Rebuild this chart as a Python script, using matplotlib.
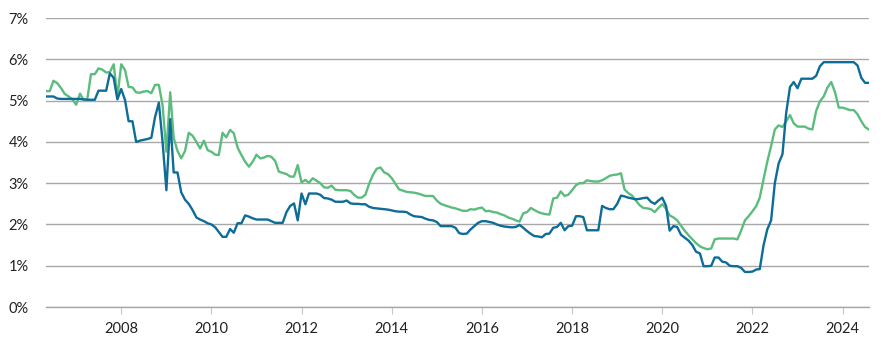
import numpy as np
import pandas as pd
import matplotlib
matplotlib.use("Agg")
import matplotlib.pyplot as plt
import matplotlib.dates as mdates

# Monthly series, May 2006 - Aug 2024 (values in %)
dates = pd.date_range("2006-05-01", "2024-08-01", freq="MS")

blue = [
    # 2006 May-Dec
    5.10, 5.10, 5.10, 5.05, 5.04, 5.04, 5.04, 5.04,
    # 2007
    5.04, 5.04, 5.03, 5.02, 5.02, 5.02, 5.24, 5.24, 5.24, 5.66, 5.55, 5.03,
    # 2008
    5.28, 5.01, 4.50, 4.50, 4.00, 4.03, 4.05, 4.07, 4.10, 4.60, 4.95, 4.00,
    # 2009
    2.83, 4.55, 3.26, 3.26, 2.78, 2.60, 2.50, 2.35, 2.17, 2.12, 2.08, 2.03,
    # 2010
    2.00, 1.93, 1.82, 1.70, 1.70, 1.89, 1.80, 2.03, 2.03, 2.22, 2.19, 2.15,
    # 2011
    2.12, 2.12, 2.12, 2.12, 2.08, 2.04, 2.04, 2.04, 2.30, 2.45, 2.51, 2.10,
    # 2012
    2.75, 2.49, 2.75, 2.75, 2.75, 2.72, 2.64, 2.63, 2.60, 2.55, 2.55, 2.55,
    # 2013
    2.58, 2.51, 2.50, 2.50, 2.49, 2.49, 2.43, 2.40, 2.39, 2.38, 2.37, 2.36,
    # 2014
    2.34, 2.32, 2.31, 2.31, 2.30, 2.24, 2.20, 2.19, 2.18, 2.14, 2.11, 2.10,
    # 2015
    2.06, 1.96, 1.96, 1.96, 1.96, 1.92, 1.79, 1.77, 1.78, 1.88, 1.96, 2.04,
    # 2016
    2.08, 2.08, 2.06, 2.04, 2.00, 1.97, 1.95, 1.94, 1.93, 1.94, 1.99, 1.92,
    # 2017
    1.84, 1.77, 1.72, 1.71, 1.69, 1.77, 1.78, 1.92, 1.94, 2.04, 1.86, 1.96,
    # 2018
    1.97, 2.20, 2.20, 2.18, 1.86, 1.86, 1.86, 1.86, 2.45, 2.40, 2.37, 2.37,
    # 2019
    2.50, 2.70, 2.68, 2.65, 2.63, 2.61, 2.62, 2.64, 2.65, 2.55, 2.50, 2.58,
    # 2020
    2.65, 2.45, 1.85, 1.96, 1.94, 1.75, 1.68, 1.61, 1.50, 1.34, 1.30, 0.99,
    # 2021
    0.99, 1.00, 1.20, 1.20, 1.10, 1.08, 1.00, 0.99, 0.99, 0.95, 0.85, 0.85,
    # 2022
    0.86, 0.91, 0.92, 1.50, 1.88, 2.10, 3.00, 3.48, 3.70, 4.70, 5.33, 5.45,
    # 2023
    5.30, 5.53, 5.53, 5.53, 5.53, 5.60, 5.83, 5.93, 5.93, 5.93, 5.93, 5.93,
    # 2024 Jan-Aug
    5.93, 5.93, 5.93, 5.93, 5.85, 5.55, 5.43, 5.43,
]

green = [
    # 2006 May-Dec
    5.23, 5.23, 5.48, 5.42, 5.30, 5.16, 5.10, 5.03,
    # 2007
    4.90, 5.17, 5.02, 5.03, 5.64, 5.64, 5.78, 5.75, 5.68, 5.69, 5.88, 5.08,
    # 2008
    5.88, 5.74, 5.33, 5.32, 5.20, 5.19, 5.22, 5.23, 5.18, 5.38, 5.38, 4.89,
    # 2009
    3.76, 5.20, 4.10, 3.78, 3.60, 3.78, 4.22, 4.15, 4.00, 3.84, 4.03, 3.80,
    # 2010
    3.76, 3.69, 3.68, 4.22, 4.11, 4.29, 4.21, 3.86, 3.68, 3.52, 3.40, 3.52,
    # 2011
    3.69, 3.60, 3.62, 3.66, 3.64, 3.54, 3.28, 3.25, 3.22, 3.16, 3.16, 3.44,
    # 2012
    3.02, 3.08, 3.01, 3.12, 3.06, 3.00, 2.90, 2.89, 2.94, 2.84, 2.83, 2.83,
    # 2013
    2.83, 2.81, 2.72, 2.65, 2.65, 2.72, 2.98, 3.20, 3.35, 3.38, 3.26, 3.22,
    # 2014
    3.12, 2.98, 2.85, 2.82, 2.79, 2.78, 2.77, 2.75, 2.72, 2.69, 2.69, 2.69,
    # 2015
    2.58, 2.50, 2.47, 2.44, 2.41, 2.39, 2.36, 2.33, 2.33, 2.37, 2.36, 2.39,
    # 2016
    2.41, 2.32, 2.33, 2.30, 2.29, 2.25, 2.22, 2.17, 2.14, 2.10, 2.07, 2.27,
    # 2017
    2.30, 2.40, 2.35, 2.30, 2.27, 2.25, 2.24, 2.63, 2.65, 2.80, 2.69, 2.72,
    # 2018
    2.83, 2.95, 3.00, 3.00, 3.07, 3.05, 3.04, 3.04, 3.07, 3.12, 3.18, 3.20,
    # 2019
    3.21, 3.24, 2.85, 2.76, 2.70, 2.58, 2.47, 2.40, 2.39, 2.37, 2.30, 2.40,
    # 2020
    2.49, 2.38, 2.22, 2.17, 2.10, 1.97, 1.85, 1.74, 1.64, 1.55, 1.47, 1.43,
    # 2021
    1.40, 1.42, 1.64, 1.66, 1.66, 1.66, 1.66, 1.66, 1.64, 1.85, 2.10, 2.20,
    # 2022
    2.32, 2.45, 2.65, 3.10, 3.52, 3.90, 4.30, 4.40, 4.36, 4.50, 4.65, 4.45,
    # 2023
    4.37, 4.37, 4.37, 4.32, 4.30, 4.75, 4.98, 5.10, 5.32, 5.45, 5.20, 4.83,
    # 2024 Jan-Aug
    4.83, 4.80, 4.77, 4.77, 4.67, 4.50, 4.36, 4.30,
]

y_ticks = [0, 1, 2, 3, 4, 5, 6, 7]
x_years = list(range(2008, 2025, 2))

plt.rcParams["font.family"] = ["Lato", "DejaVu Sans"]

fig = plt.figure(figsize=(8.83, 3.6), dpi=100)
ax = fig.add_axes([0.052, 0.147, 0.932, 0.803])

ax.plot(dates, green, color="#5cbc7e", linewidth=1.7, zorder=3)
ax.plot(dates, blue, color="#0e6c98", linewidth=1.7, zorder=4)

ax.set_ylim(0, 7)
ax.set_xlim(dates[0], dates[-1])
ax.set_yticks(y_ticks)
ax.set_yticklabels([f"{v}%" for v in y_ticks], ha="left")
ax.set_xticks([pd.Timestamp(f"{y}-01-01") for y in x_years])
ax.xaxis.set_major_formatter(mdates.DateFormatter("%Y"))

ax.grid(axis="y", color="#a8a8a8", linewidth=1.0)
ax.set_axisbelow(True)
for s in ["top", "right", "left"]:
    ax.spines[s].set_visible(False)
ax.spines["bottom"].set_color("#a8a8a8")
ax.spines["bottom"].set_linewidth(1.0)

ax.tick_params(axis="y", length=0, pad=27, labelsize=10.5, labelcolor="#222222")
ax.tick_params(axis="x", length=5, width=0.8, color="#c8c8c8", pad=6,
               labelsize=10.5, labelcolor="#222222")

fig.savefig("out.png", dpi=100)
